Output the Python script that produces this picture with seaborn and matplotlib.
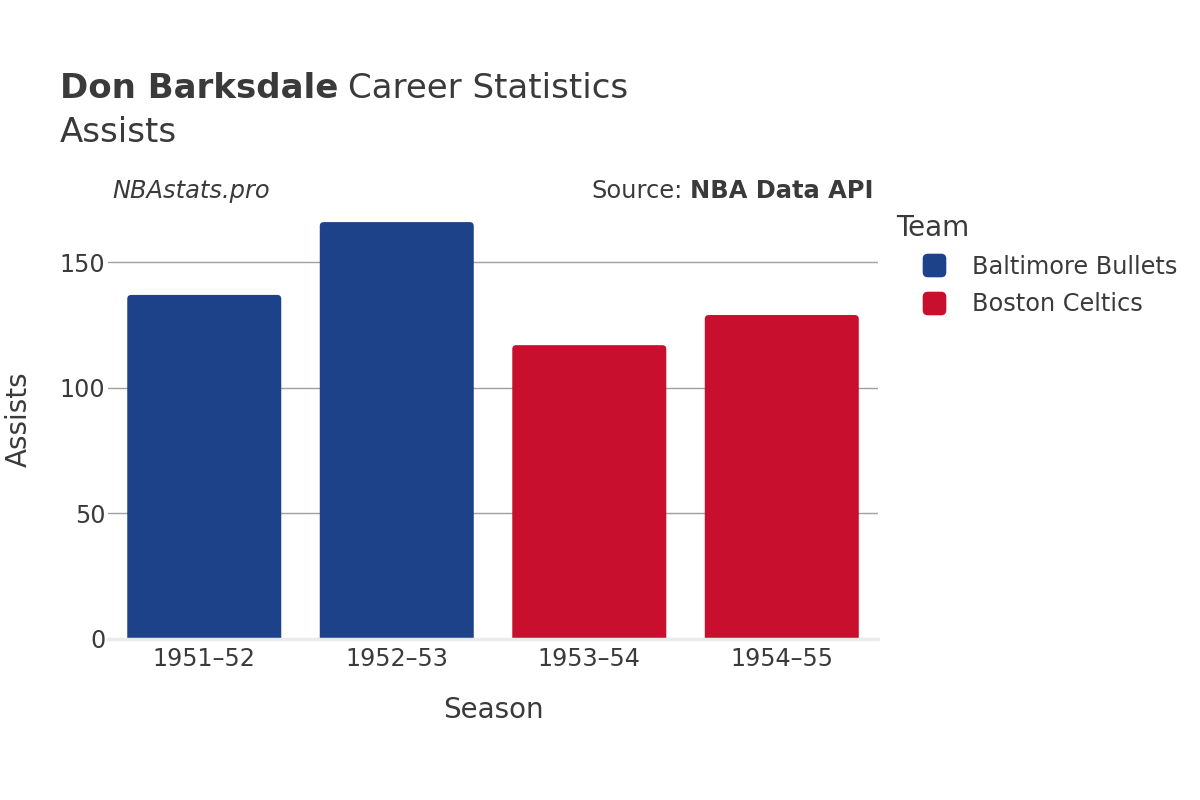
import matplotlib
matplotlib.use("Agg")
import matplotlib.pyplot as plt
import seaborn as sns
import pandas as pd
from matplotlib.patches import FancyBboxPatch
from matplotlib.lines import Line2D

seasons = ["1951–52", "1952–53", "1953–54", "1954–55"]
teams = ["Baltimore Bullets", "Baltimore Bullets", "Boston Celtics", "Boston Celtics"]
assists = [137, 166, 117, 129]
team_colors = {"Baltimore Bullets": "#1D428A", "Boston Celtics": "#C8102E"}

df = pd.DataFrame({"Season": seasons, "Team": teams, "Assists": assists})

sns.set_theme(style="white")
plt.rcParams['font.family'] = ['DejaVu Sans']
TXT = "#3a3a3a"

fig = plt.figure(figsize=(12, 8), dpi=100)
ax = fig.add_axes([0.09, 0.20125, 0.6417, 0.54875])

sns.barplot(data=df, x="Season", y="Assists", hue="Team", palette=team_colors,
            dodge=False, width=0.8, ax=ax, legend=False, saturation=1)

ymax = max(assists) * 1.053
ax.set_ylim(0, ymax)
ax.set_xlim(-0.5, len(seasons) - 0.5)

# rounded top corners (bottom corners extend below the axis and are clipped)
px_x = (len(seasons)) / 770.0
px_y = ymax / 439.0
r = 4 * px_x
ext = 10 * px_y
for p in list(ax.patches):
    x0, y0 = p.get_x(), p.get_y()
    w, h = p.get_width(), p.get_height()
    col = p.get_facecolor()
    p.set_visible(False)
    fb = FancyBboxPatch((x0, y0 - ext), w, h + ext, boxstyle=f"round,pad=0,rounding_size={r}",
                        mutation_aspect=px_y / px_x, facecolor=col, edgecolor="none", zorder=3)
    ax.add_patch(fb)

ax.set_yticks([0, 50, 100, 150])
for yv in [50, 100, 150]:
    ax.axhline(yv, color="#a0a0a0", lw=1, zorder=1)
ax.axhline(0, color="#ebebeb", lw=2.5, zorder=4, clip_on=False)

for s in ax.spines.values():
    s.set_visible(False)
ax.tick_params(axis="both", length=0, labelsize=17.2, colors=TXT)
ax.tick_params(axis="x", pad=6)
ax.tick_params(axis="y", pad=2)
ax.set_xlabel("Season", fontsize=20, color=TXT, labelpad=18)
ax.set_ylabel("Assists", fontsize=20, color=TXT, labelpad=19)

t1 = fig.text(0.05, 0.889, "Don Barksdale", fontsize=24.5, fontweight="bold", color=TXT, va="center", ha="left")
fig.canvas.draw()
bb = t1.get_window_extent()
fig.text(bb.x1 / 1200 + 0.008, 0.889, "Career Statistics", fontsize=24.5, color=TXT, va="center", ha="left")
fig.text(0.05, 0.835, "Assists", fontsize=24.5, color=TXT, va="center", ha="left")

fig.text(0.094, 0.761, "NBAstats.pro", fontsize=17.4, style="italic", color=TXT, va="center", ha="left")
t2 = fig.text(0.728, 0.761, "NBA Data API", fontsize=17.4, fontweight="bold", color=TXT, va="center", ha="right")
fig.canvas.draw()
bb2 = t2.get_window_extent()
fig.text(bb2.x0 / 1200 - 0.006, 0.761, "Source:", fontsize=17.4, color=TXT, va="center", ha="right")

rsq = FancyBboxPatch((-0.5, -0.5), 1, 1, boxstyle="round,pad=0,rounding_size=0.22").get_path()
handles = [Line2D([0], [0], marker=rsq, color="none", markerfacecolor=team_colors[t],
                  markeredgecolor="none", markersize=17, label=t)
           for t in ["Baltimore Bullets", "Boston Celtics"]]
leg = fig.legend(handles=handles, title="Team", loc="upper left", bbox_to_anchor=(0.747, 0.733),
                 frameon=False, fontsize=17.3, title_fontsize=20, labelcolor=TXT,
                 handlelength=3.1, handletextpad=0.05, labelspacing=0.55,
                 borderaxespad=0, borderpad=0)
leg.get_title().set_color(TXT)
leg._legend_box.align = "left"

fig.savefig("out.png", dpi=100)
